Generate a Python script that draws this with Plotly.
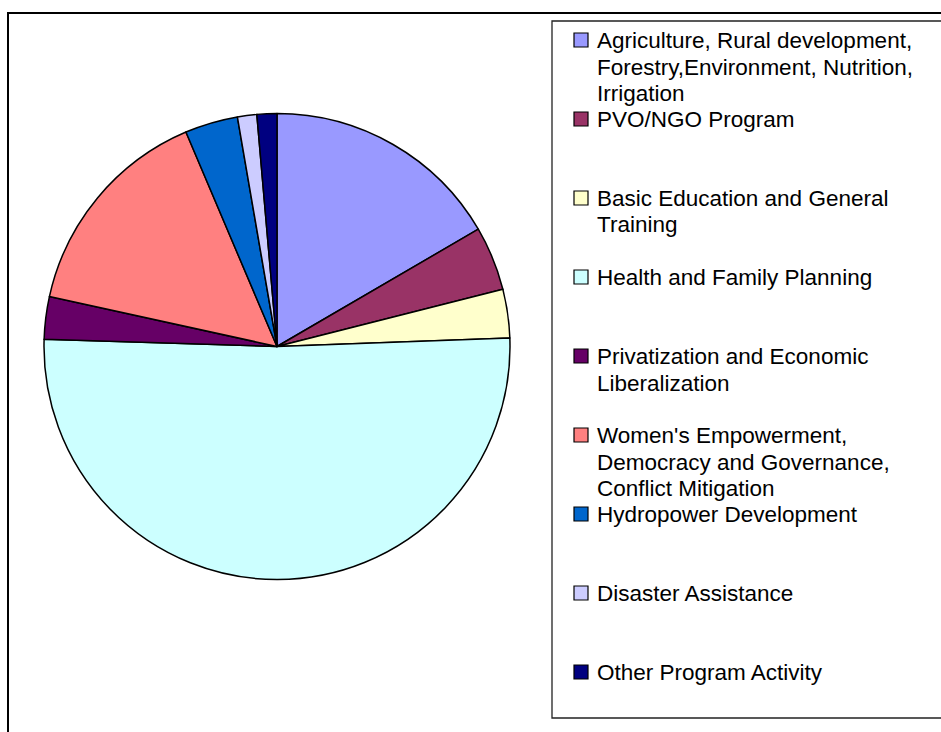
import plotly.graph_objects as go

# Program areas and their share of the budget (%)
categories = [
    "Agriculture, Rural development, Forestry,Environment, Nutrition, Irrigation",
    "PVO/NGO Program",
    "Basic Education and General Training",
    "Health and Family Planning",
    "Privatization and Economic Liberalization",
    "Women's Empowerment, Democracy and Governance, Conflict Mitigation",
    "Hydropower Development",
    "Disaster Assistance",
    "Other Program Activity",
]
shares = [16.6, 4.45, 3.36, 51.07, 2.95, 15.17, 3.67, 1.34, 1.38]

# Legend text, one list of lines per entry
legend_lines = [
    ["Agriculture, Rural development,", "Forestry,Environment, Nutrition,", "Irrigation"],
    ["PVO/NGO Program"],
    ["Basic Education and General", "Training"],
    ["Health and Family Planning"],
    ["Privatization and Economic", "Liberalization"],
    ["Women's Empowerment,", "Democracy and Governance,", "Conflict Mitigation"],
    ["Hydropower Development"],
    ["Disaster Assistance"],
    ["Other Program Activity"],
]

colors = ["#9999FF", "#993366", "#FFFFCC", "#CCFFFF", "#660066",
          "#FF8080", "#0066CC", "#CCCCFF", "#000080"]

W, H = 941, 732


def px(x):
    return x / W


def py(y):
    return 1 - y / H


# pie placement (pixels)
cx, cy, r = 277, 346.5, 233

fig = go.Figure(go.Pie(
    labels=categories,
    values=shares,
    sort=False,
    direction="clockwise",
    rotation=0,
    marker=dict(colors=colors, line=dict(color="black", width=1.5)),
    textinfo="none",
    hoverinfo="label+percent",
    showlegend=False,
    domain=dict(x=[px(cx - r), px(cx + r)], y=[py(cy + r), py(cy - r)]),
))

shapes = [
    # outer chart frame
    dict(type="rect", xref="paper", yref="paper",
         x0=px(8), x1=px(W + 10), y0=py(H + 10), y1=py(13),
         line=dict(color="black", width=2), fillcolor="rgba(0,0,0,0)"),
    # legend frame
    dict(type="rect", xref="paper", yref="paper",
         x0=px(552), x1=px(W + 10), y0=py(718), y1=py(21),
         line=dict(color="#222222", width=1.3), fillcolor="rgba(0,0,0,0)"),
]
annotations = []

slot0, slot_step, line_step = 40, 79, 26.5
font = dict(family="Liberation Sans, Arial, sans-serif", size=22.5, color="black")
for i, (lines, col) in enumerate(zip(legend_lines, colors)):
    yc = slot0 + slot_step * i
    shapes.append(dict(type="rect", xref="paper", yref="paper",
                       x0=px(574), x1=px(588), y0=py(yc + 7), y1=py(yc - 7),
                       line=dict(color="black", width=1.2), fillcolor=col))
    for k, line in enumerate(lines):
        annotations.append(dict(xref="paper", yref="paper", x=px(595),
                                y=py(yc + 0.5 + k * line_step),
                                xanchor="left", yanchor="middle", align="left",
                                showarrow=False, text=line, font=font))

fig.update_layout(
    width=W, height=H,
    margin=dict(l=0, r=0, t=0, b=0),
    paper_bgcolor="white",
    plot_bgcolor="white",
    shapes=shapes,
    annotations=annotations,
)

fig.write_html("out.html")
